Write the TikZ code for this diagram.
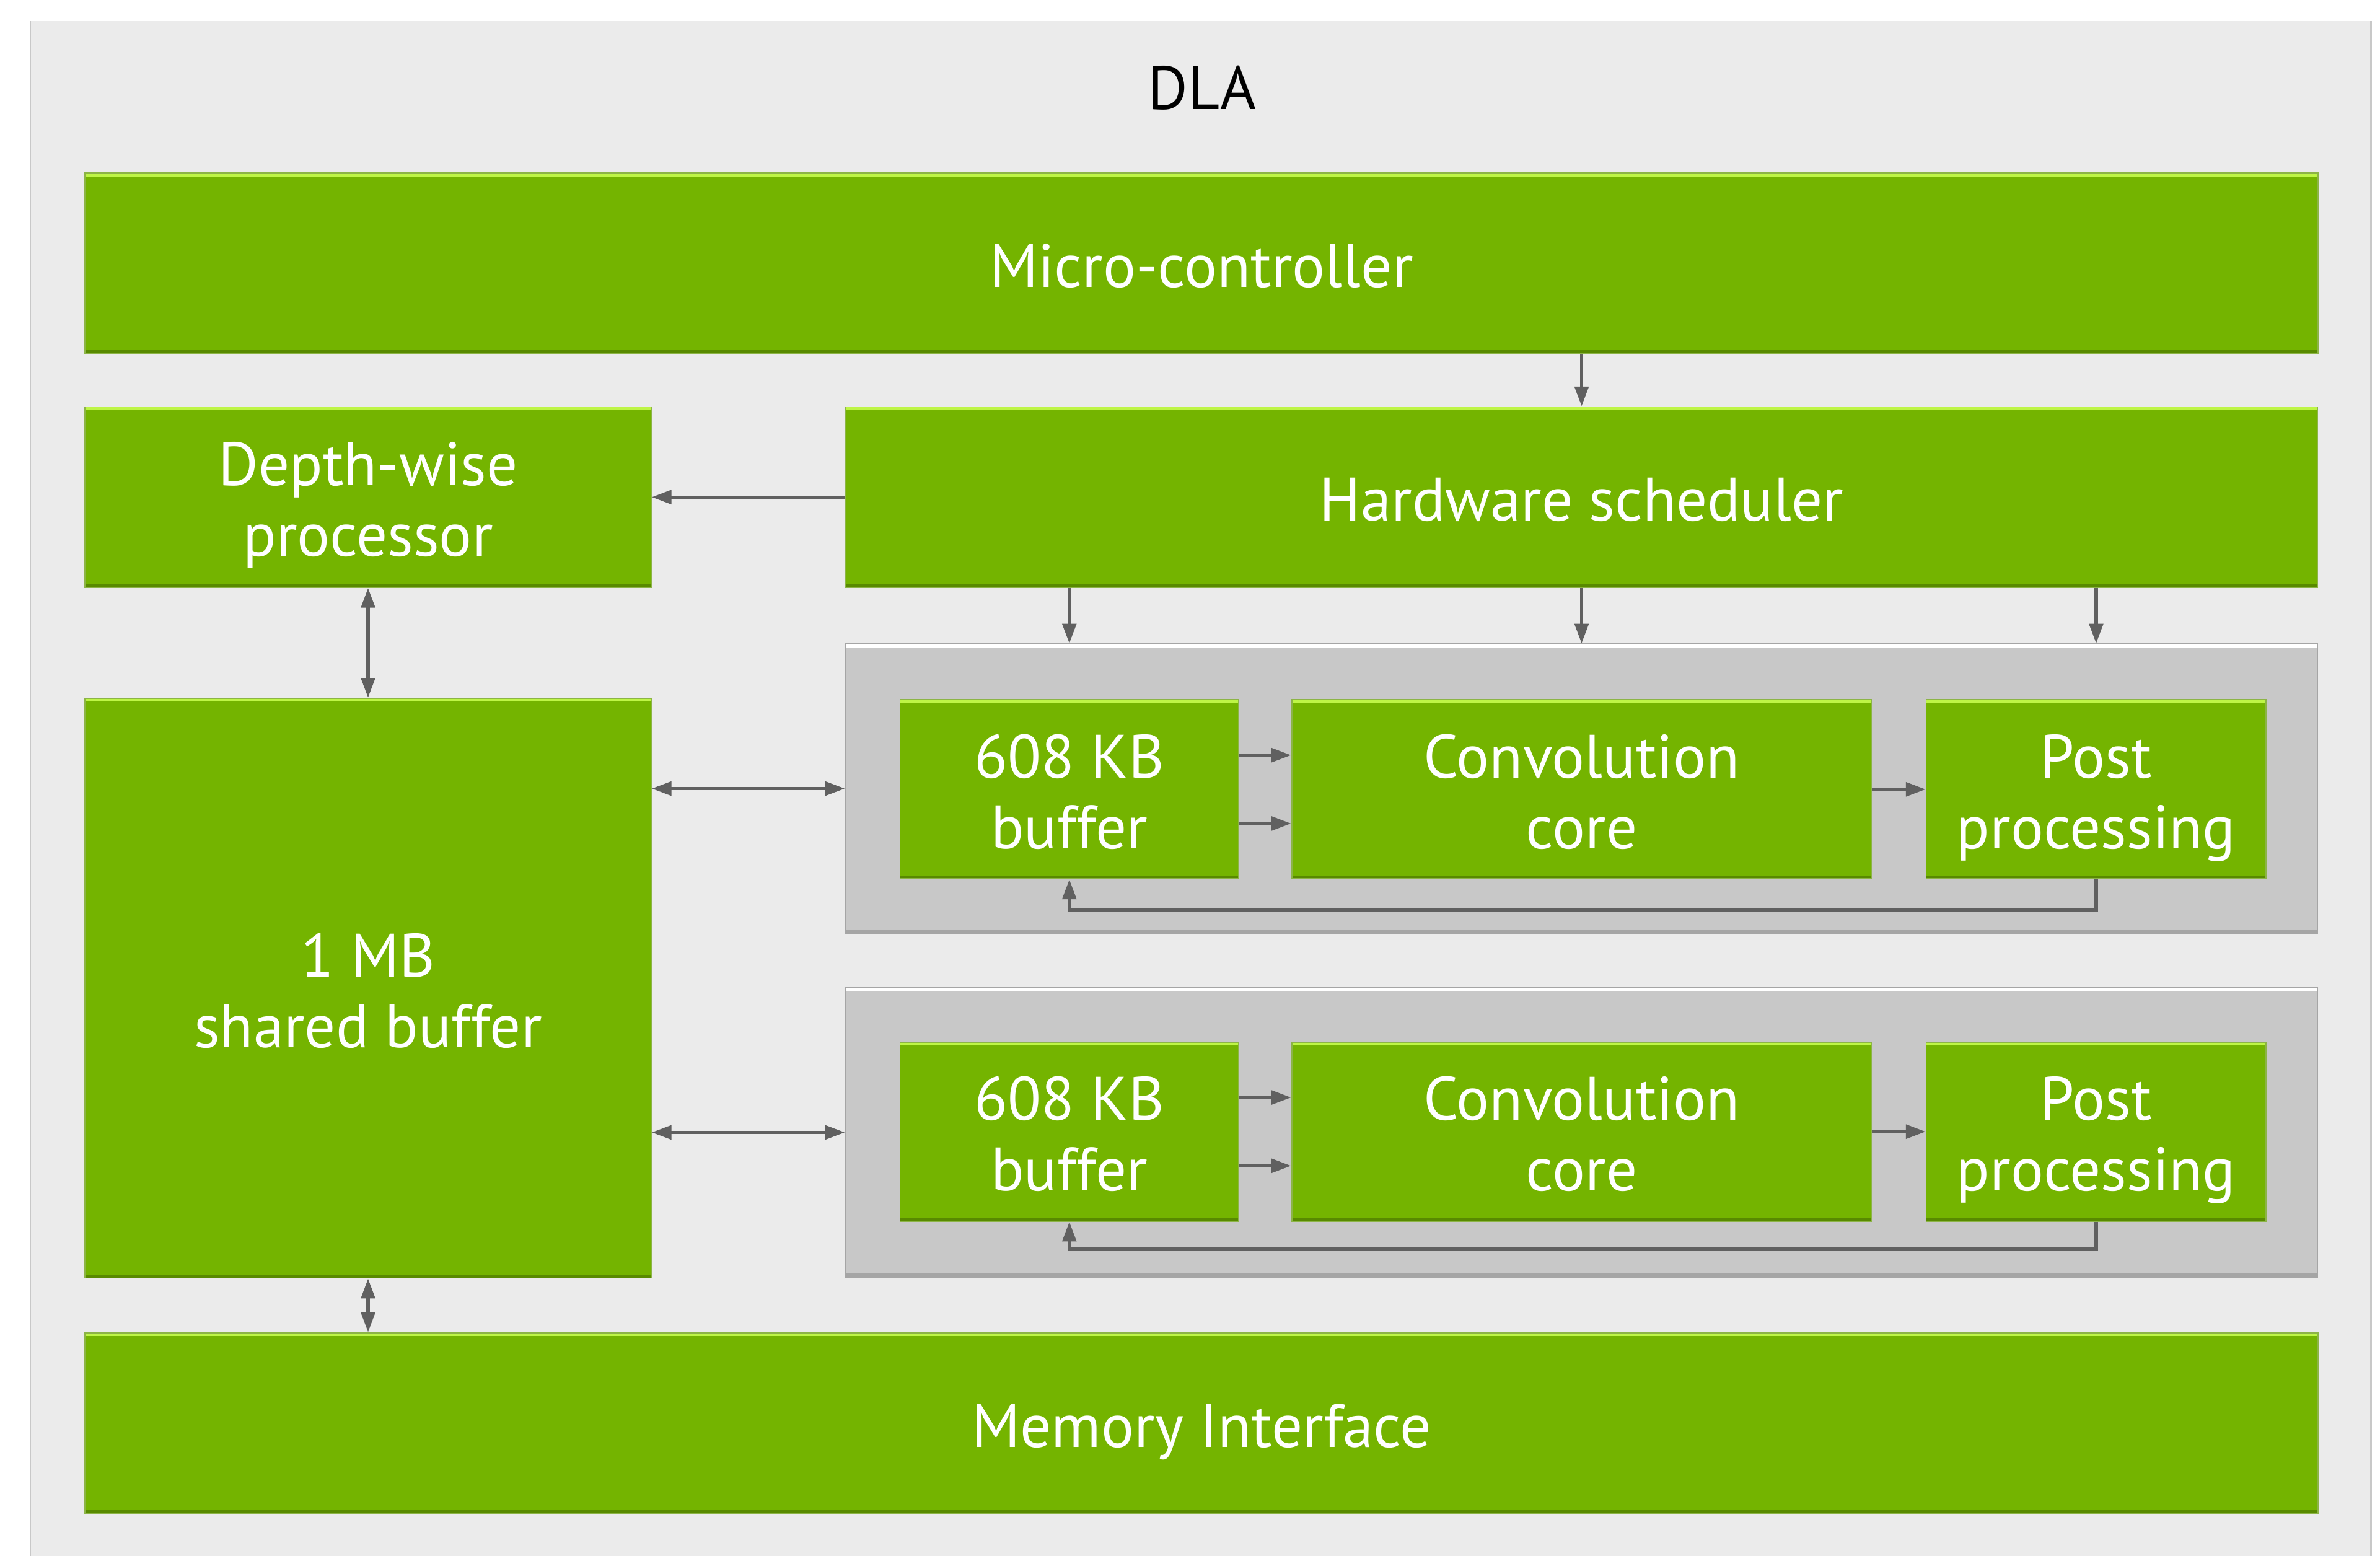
\documentclass[tikz,border=0pt]{standalone}
\usepackage{fontspec}
\setmainfont{PT Sans}
\usepackage{tikz}
\usetikzlibrary{arrows.meta}
\usepackage{xcolor}

\definecolor{nvgreen}{RGB}{116,180,0}
\definecolor{nvedge}{RGB}{140,180,70}
\definecolor{nvhi}{RGB}{190,245,70}
\definecolor{nvlo}{RGB}{88,138,0}
\definecolor{panelgray}{RGB}{235,235,235}
\definecolor{grpgray}{RGB}{200,200,200}
\definecolor{grplo}{RGB}{165,165,165}
\definecolor{arrgray}{RGB}{96,96,96}

\newcommand\blkfont{\fontsize{23}{26.5}\selectfont}

\tikzset{
  blk/.style={fill=nvgreen, draw=nvedge, line width=0.4pt, text=white, align=center,
    inner sep=0pt, minimum height=23.8mm, font=\blkfont,
    execute at begin node={\rule{0pt}{9.1mm}}, execute at end node=\strut,
    path picture={
      \fill[nvhi] (path picture bounding box.north west) rectangle ([yshift=-0.45mm]path picture bounding box.north east);
      \fill[nvlo] (path picture bounding box.south west) rectangle ([yshift=0.45mm]path picture bounding box.south east);}},
  two/.style={execute at begin node={\rule{0pt}{18.4mm}}},
  grp/.style={fill=grpgray, draw=grplo, line width=0.4pt, inner sep=0pt,
    minimum width=194mm, minimum height=38.1mm,
    path picture={
      \fill[white] (path picture bounding box.north west) rectangle ([yshift=-0.45mm]path picture bounding box.north east);
      \fill[grplo] (path picture bounding box.south west) rectangle ([yshift=0.45mm]path picture bounding box.south east);}},
  arr/.style={draw=arrgray, line width=1.25pt, -{Triangle[length=2.6mm,width=1.8mm]}},
  darr/.style={draw=arrgray, line width=1.25pt, {Triangle[length=2.6mm,width=1.8mm]}-{Triangle[length=2.6mm,width=1.8mm]}}
}

\begin{document}
\begin{tikzpicture}[x=0.2mm,y=-0.2mm]
  \useasboundingbox (0,0) rectangle (1568,1025);
  % outer panel
  \fill[panelgray] (20,10) rectangle (1562,1025);
  \fill[white] (20,10) rectangle (1562,14);
  \draw[grpgray, line width=0.6pt] (20,14) -- (20,1025) (1562,14) -- (1562,1025);
  \node[font=\blkfont] (dla) at (792,58) {DLA};

  \node[blk, minimum width=294.2mm] (mc) at (791.5,173.5) {Micro-controller};
  \node[blk, two, minimum width=74.6mm] (dw) at (242.5,327.5) {Depth-wise\\processor};
  \node[blk, minimum width=194mm] (hs) at (1042,327.5) {Hardware scheduler};
  \node[blk, two, minimum width=74.6mm, minimum height=76.4mm] (sb) at (242.5,651) {1 MB\\shared buffer};
  \node[blk, minimum width=294.2mm] (mi) at (791.5,937.5) {Memory Interface};

  % the two convolution pipes
  \node[grp] (grp1) at (1042,519.5) {};
  \node[grp] (grp2) at (1042,746) {};

  \node[blk, two, minimum width=44.6mm, minimum height=23.6mm] (buf1) at (704.5,520) {608 KB\\buffer};
  \node[blk, two, minimum width=76.4mm, minimum height=23.6mm] (conv1) at (1042,520) {Convolution\\core};
  \node[blk, two, minimum width=44.8mm, minimum height=23.6mm] (post1) at (1381,520) {Post\\processing};

  \node[blk, two, minimum width=44.6mm, minimum height=23.6mm] (buf2) at (704.5,745.5) {608 KB\\buffer};
  \node[blk, two, minimum width=76.4mm, minimum height=23.6mm] (conv2) at (1042,745.5) {Convolution\\core};
  \node[blk, two, minimum width=44.8mm, minimum height=23.6mm] (post2) at (1381,745.5) {Post\\processing};

  \draw[arr] (mc.south -| hs.north) -- (hs.north);
  \draw[arr] (hs.west) -- (dw.east);
  \draw[arr] (hs.south -| buf1) -- (grp1.north -| buf1);
  \draw[arr] (hs.south -| conv1) -- (grp1.north -| conv1);
  \draw[arr] (hs.south -| post1) -- (grp1.north -| post1);

  \draw[darr] (dw.south) -- (sb.north);
  \draw[darr] (sb.south) -- (mi.north -| sb.south);
  \draw[darr] (sb.east |- grp1.west) -- (grp1.west);
  \draw[darr] (sb.east |- grp2.west) -- (grp2.west);

  \draw[arr] ([yshift=4.5mm]buf1.east) -- ([yshift=4.5mm]conv1.west);
  \draw[arr] ([yshift=-4.5mm]buf1.east) -- ([yshift=-4.5mm]conv1.west);
  \draw[arr] (conv1.east) -- (post1.west);
  \draw[arr] (post1.south) -- ++(0,20) -| (buf1.south);

  \draw[arr] ([yshift=4.5mm]buf2.east) -- ([yshift=4.5mm]conv2.west);
  \draw[arr] ([yshift=-4.5mm]buf2.east) -- ([yshift=-4.5mm]conv2.west);
  \draw[arr] (conv2.east) -- (post2.west);
  \draw[arr] (post2.south) -- ++(0,18) -| (buf2.south);
\end{tikzpicture}
\end{document}
